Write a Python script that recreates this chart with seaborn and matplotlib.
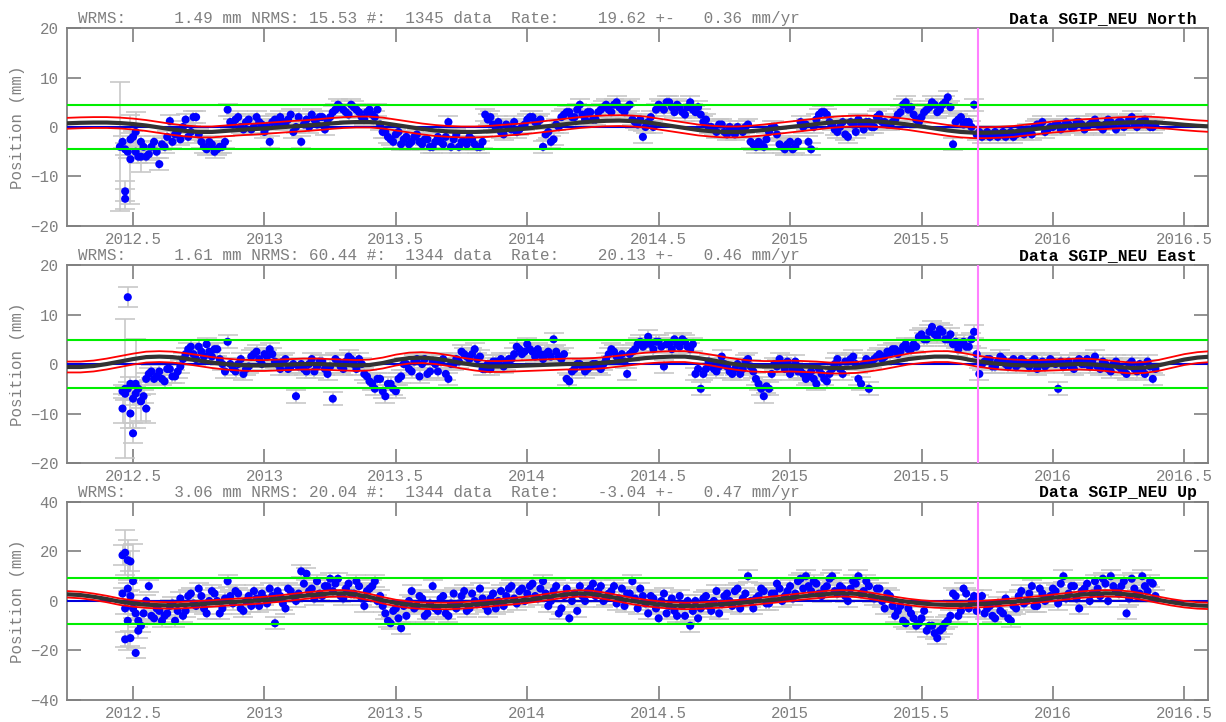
import numpy as np
import pandas as pd
import matplotlib
matplotlib.use("Agg")
import matplotlib.pyplot as plt
import seaborn as sns

# daily solutions: two interleaved passes, 0.02 yr apart
t_start = 2012.46
t_start2 = 2012.47
t_step = 0.02

north_vals = [-3, -5, -2, -6, -4, -5.5, -3, -7.5, -4, 1.2,
              -1.5, -2.5, 1.5, -1, 2, -3, -4.5, -3.5, -4.5, -4,
              3.5, 0.5, 2, -0.5, 1.5, 0, 1, -1, -3, 1.5,
              2, 0.5, 2.5, 0, -3, 1.5, 2.5, 0.5, 2, 1,
              3, 4.5, 3.5, 2.5, 4, 3, 1.5, 3.5, 2, 0.5,
              -1, -2.5, -1.5, -3.5, -2, -3, -1.5, -3.5, -2.5, -4,
              -2, -3.5, 1, -2.5, -4, -3, -2, -3.5, -4, 2.5,
              2, 0, -1, 0.5, -0.5, -1, 0, 1.5, 2, 1,
              -4, -1, -2.5, 0, 2.5, 3, 2, 4.5, 1.5, 3,
              1.5, 3.5, 4.5, 3, 5, 3.5, 4, 1.5, 0.5, -2,
              1, 0, 4.5, 3.5, 5, 3, 4, 2.5, 5, 3,
              2.5, 1.5, 0, -1, 0.5, -1.5, -0.5, 0, -1, 0.5,
              -3.5, -3, -4, -1, 0, -3.5, -4.5, -3, -4, 1,
              0.5, -4.5, 1.5, 3, 2.5, 0.5, -1, 1, -2, 0.5,
              1.5, -0.5, 1, 0, 2.5, 1, 0.5, 1.5, 3, 5,
              4, 1.5, 2, 3.5, 5, 3, 4.5, 6, -3.5, 1.5,
              0.5, 1, 4.5, -1, -1.5, -2, -1, -1.5, -2, -1,
              -1.5, -1, -0.5, -1.5, 0.5, 1, -0.5, 0, 0.5, 0,
              0.5, 0, 1, -0.5, 0.5, 1.5, 0, 0.5, 1, -0.5,
              1, 0.5, 2, 0, 1, 0.5, 0]
north_vals2 = [-4.5, -2.5, -5, -3, -6, -4, -5, -3.5, -2, -3,
               -1, 0, -2, 2, -1.5, -4, -3, -5, -4, -3,
               1, 1.5, 0, 1, -0.5, 2, 0.5, 0, 1, 0.5,
               1, 1.5, -1, 2, 0.5, 0, 1.5, 2, -0.5, 2,
               3.5, 4, 3, 4.5, 3.5, 2, 3, 2.5, 3.5, -1,
               -2, -3, -1, -2.5, -3.5, -2, -3, -2.5, -4, -3,
               -3, -2, -4, -1.5, -3, -3.5, -2.5, -4, -3, 1.5,
               0.5, 1, -1.5, 0, 1, -0.5, 0.5, 2, 1, 1.5,
               -1.5, -3, 0.5, 2, 3, 2, 3.5, 2.5, 3, 1.5,
               3, 4, 3.5, 4.5, 4, 3, 4.5, 1, 1.5, 0,
               2, 3.5, 4, 5, 4, 4.5, 3, 4, 3.5, 4,
               1, 0, -0.5, 0.5, -1, 0, -1.5, -0.5, 0, -3,
               -4, -3.5, -2.5, 0, -1.5, -4, -3.5, -4.5, -3, 0,
               -3, 0, 2.5, 3, 1, -0.5, 0, -1.5, 1, -1,
               0.5, 1, 0, 2, 1, 0.5, 1, 2.5, 4.5, 3.5,
               2.5, 1, 3, 4, 4.5, 3.5, 5, 4, 1, 2,
               1, 0, -1.5, -2, -1, -1.5, -2, -1, -1.5, -2,
               -1, -1.5, -0.5, 0, 0.5, -1, 0, 0.5, -0.5, 1,
               0, 1, 0.5, 0, 1, 0.5, -0.5, 1.5, 0.5, 1,
               0, 1.5, 0.5, 1, 1.5, 0, 0.5]

east_vals = [-5.5, -5, -7, -5, -6.5, -2, -3, -1.5, -3.5, -1,
             -2.5, -0.5, 2, 3.5, 1, 2.5, 4, 1.5, 3, 0,
             4.5, -1, 0, -2, -0.5, 2, 1, 2, 3, 0.5,
             -1, 1, -0.5, -6.5, 0, -1.5, 1, -0.5, 0.5, -2,
             -7, 0.5, -1, 1.5, 0, 1, -2, -3.5, -5, -3,
             -6.5, -4, -5.5, -2.5, 0, -1.5, 1, 0, -2, 0.5,
             -1.5, 1, -3, 0, 0.5, 2, 1, 3, 1.5, -1,
             -1, 0.5, 1, 0, 1, 3.5, 2, 4, 2.5, 3,
             1, 2.5, 5, 1.5, 2, -3.5, -1, 0, -1.5, -0.5,
             0, -1, 1, 3, 1.5, 2, -2, 2.5, 4, 3.5,
             5.5, 3, 4.5, -0.5, 4, 5, 3.5, 4.5, 3, -2,
             -5, -1, 0, -1.5, 1.5, -0.5, -2, 0, -1, 1,
             -1.5, -4, -6.5, -5, 0, 1, -1, -2, 0.5, -1.5,
             -3, -1.5, -4, -2, -3.5, -1, 1, -2, 0.5, 1.5,
             -3, 0, -5, 1, 2, 1.5, 2, 3, 2.5, 4,
             3, 3.5, 6, 5, 7.5, 5.5, 6.5, 5, 4, 3,
             4.5, 3.5, 6.5, -2, 0.5, 1, -0.5, 1.5, 0, 0.5,
             -0.5, 1, 0, 0.5, -1, 0.5, 0, 0.5, -5, -0.5,
             0.5, -1, 1, 0, -0.5, 1.5, -1, 0, -1.5, 0.5,
             -1, -2, 0.5, -1.5, -1, 0.5, -3]
east_vals2 = [-6, -4, -6, -7.5, -3, -1.5, -2.5, -3, -1, -2.5,
              -1.5, 1, 3, 2, 3.5, 1.5, 2.5, 3, 1, -1.5,
              0, -1.5, 1, -1, 1.5, 2.5, 0, 1.5, 2, 0,
              0.5, -1, 0, -0.5, -1, 0, -1.5, 0.5, -1, -0.5,
              1, -0.5, 0.5, 1, -1, 0, -2.5, -4, -3, -5.5,
              -4, -5, -3, 0, -1, 0.5, -2.5, 1, -1.5, 0,
              0.5, -2, 0, 1, 2.5, 1.5, 2, 1, -1, 0,
              0.5, 0, -0.5, 1, 2, 3, 2.5, 3, 1.5, 2,
              2, 1.5, 2.5, 1, -3, -1.5, 0, -0.5, -1, 0,
              -0.5, 0, 2, 2.5, 1, 0.5, 2, 3, 4.5, 4,
              4, 4.5, 3.5, 4, 3, 4, 5, 3.5, 4, -1,
              -2, 0.5, -1, -0.5, 0, -1.5, -1, -2, 0.5, -0.5,
              -3, -5, -4.5, -2, -0.5, 0, 0.5, -1, -1.5, -2,
              -2.5, -3, -1, -3, -2, 0, -1, 0.5, 1, 0,
              -4, 1, 0.5, 1.5, 1, 2.5, 3, 2, 3.5, 3,
              4, 5.5, 5, 6.5, 6, 7, 5, 6, 4.5, 4,
              3.5, 5, 2, 0, 1, -0.5, 0.5, 1, -0.5, 1,
              0, 0.5, -0.5, 1, 0, -0.5, 1, 0, 0.5, 0,
              -0.5, 0.5, 0, 1, 0.5, -0.5, 0.5, -1, 0, -0.5,
              -1.5, 0, -1, 0, -2, -0.5, -1]

up_vals = [3, 5, -3, -8, -5, 6, -7, -4, -6, -2,
           -8, 1, -4, 3, -2, 2, -5, 4, 0, -3,
           8, -1, 3, -4, 2, 4, -2, 1, 5, -9,
           2, -3, 4, 0, 12, 11, 5, 8, 2, 6,
           4, 9, 1, 7, 3, 6, -2, 5, 8, 2,
           -5, -9, -3, -11, -6, 4, -2, 1, -5, 6,
           -4, 2, -6, 3, -1, 4, -3, 0, 5, -2,
           1, -3, 4, 2, 6, -1, 5, 3, 7, 1,
           8, -2, 4, -5, 2, -7, 3, 6, 0, 5,
           2, 6, 1, 4, -1, 5, 3, 8, -3, 2,
           -5, 1, -7, 3, -2, -4, 2, -6, -10, 0,
           -3, 2, -4, 4, -1, 3, -2, 5, 1, 10,
           -3, 2, 4, -1, 3, 5, 2, 6, 3, 9,
           10, 4, 7, 2, 6, 10, 3, 5, 0, 8,
           10, 4, 6, 1, 5, -3, 2, -6, -2, -9,
           -5, -10, -7, -12, -10, -15, -11, -8, 3, -6,
           5, -3, 2, 0, -5, -2, -7, -4, 1, -8,
           -3, 4, 0, 6, -2, 3, 1, 5, -1, 10,
           3, 6, -3, 5, 0, 8, 2, 7, 10, 4,
           6, -5, 9, 2, 10, 4, 7]
up_vals2 = [-3, 2, -5, -10, 0, -6, -3, -8, -5, -1,
            -4, -6, 2, -1, 5, -3, 0, 3, -5, 1,
            2, 4, -3, 0, -2, 1, 3, -1, 2, 4,
            -1, 5, 2, 3, 7, 4, 1, 3, 6, 9,
            7, 2, 5, 3, 8, 1, 4, 6, 0, -2,
            -8, -4, -7, -2, 0, -3, 2, -6, -1, -3,
            1, -5, -1, -3, 2, -4, 3, -1, 1, -4,
            3, 0, -2, 5, 1, 4, 0, 6, 2, 5,
            3, 0, 6, -3, 5, 0, -4, 2, 4, 7,
            4, 0, 3, 6, 1, -2, 3, 1, 5, -1,
            2, -3, 0, -5, 1, -6, -2, 0, -4, -7,
            1, -2, 0, -5, 2, 0, 4, -3, 3, 0,
            1, 5, -1, 3, 7, 0, 4, 1, 8, 5,
            6, 8, 3, 5, 9, 4, 6, 2, 5, 7,
            3, 8, 2, 5, 0, 3, -2, -4, -8, -3,
            -7, -9, -4, -10, -13, -12, -9, -6, 2, -4,
            3, 0, -4, 2, -3, -6, -1, -5, -7, -2,
            2, -1, 3, -2, 5, 0, 2, 4, 7, 1,
            6, 1, 4, 7, 3, 5, 9, 0, 6, 3,
            8, 1, 5, 3, 6, 8, 2]

# noisy first days of the series
north_out_t = [2012.45, 2012.47, 2012.47, 2012.49, 2012.51, 2012.53]
north_out_v = [-4, -13, -14.5, -6.5, -1, -6]
north_out_s = [13, 2, 2, 9, 4, 3]
east_out_t = [2012.46, 2012.47, 2012.48, 2012.49, 2012.50, 2012.51, 2012.53, 2012.55]
east_out_v = [-9, -5, 13.5, -10, -14, -4, -7.5, -9]
east_out_s = [3, 14, 2, 3, 2, 9, 4, 3]
up_out_t = [2012.46, 2012.47, 2012.48, 2012.49, 2012.47, 2012.49, 2012.50, 2012.51, 2012.52, 2012.48]
up_out_v = [18.5, 19.5, 16.5, 16, -15.5, -15, 8, -21, -12, -8]
up_out_s = [4, 9, 8, 4, 3, 3, 15, 2, 3, 12]

# fitted model, read every 0.05 yr from 2012.25
m_start = 2012.25
m_step = 0.05
north_model = [0.75, 0.85, 0.9, 0.9, 0.8, 0.6, 0.3, -0.1, -0.5, -0.8,
               -1.0, -1.0, -0.8, -0.6, -0.45, -0.3, -0.1, 0.1, 0.25, 0.45,
               0.7, 0.9, 1.0, 1.0, 0.8, 0.4, 0.0, -0.4, -0.7, -0.9,
               -1.0, -1.0, -0.9, -0.7, -0.5, -0.3, 0.0, 0.3, 0.6, 0.9,
               1.1, 1.25, 1.3, 1.2, 1.0, 0.6, 0.2, -0.2, -0.6, -0.85,
               -1.0, -1.0, -0.85, -0.6, -0.3, 0.0, 0.3, 0.6, 0.9, 1.1,
               1.2, 1.2, 1.05, 0.8, 0.5, 0.1, -0.3, -0.7, -1.0, -1.15,
               -1.15, -1.05, -0.9, -0.6, -0.3, 0.0, 0.2, 0.4, 0.55, 0.7,
               0.85, 0.95, 1.0, 0.9, 0.7, 0.45, 0.25, 0.1]
east_model = [-0.6, -0.6, -0.4, 0.0, 0.5, 1.0, 1.4, 1.5, 1.4, 1.1,
              0.7, 0.3, 0.0, -0.2, -0.3, -0.3, -0.2, -0.1, 0.0, 0.0,
              -0.1, -0.2, -0.3, -0.2, 0.2, 0.8, 1.2, 1.3, 1.1, 0.7,
              0.2, -0.2, -0.5, -0.5, -0.4, -0.3, -0.2, -0.1, 0.0, 0.0,
              0.1, 0.3, 0.6, 0.9, 1.2, 1.4, 1.5, 1.5, 1.2, 0.8,
              0.3, -0.1, -0.4, -0.5, -0.5, -0.4, -0.5, -0.6, -0.8, -0.8,
              -0.7, -0.4, 0.0, 0.5, 1.0, 1.3, 1.5, 1.5, 1.2, 0.7,
              0.3, 0.0, -0.2, -0.3, -0.3, -0.2, -0.1, 0.0, -0.1, -0.3,
              -0.6, -0.8, -0.7, -0.3, 0.3, 0.9, 1.3, 1.5]
up_model = [2.7, 2.4, 1.7, 0.8, -0.3, -1.0, -1.5, -1.7, -1.8, -1.6,
            -1.3, -1.0, -0.6, -0.3, 0.0, 0.4, 0.9, 1.5, 2.1, 2.6,
            3.0, 3.1, 2.6, 1.6, 0.3, -0.8, -1.5, -1.9, -2.0, -2.0,
            -1.8, -1.4, -1.0, -0.5, 0.0, 0.5, 1.2, 2.0, 2.7, 3.1,
            2.8, 2.0, 1.0, 0.0, -0.8, -1.4, -1.8, -2.0, -1.9, -1.6,
            -1.3, -0.9, -0.4, 0.2, 0.7, 1.3, 1.9, 2.4, 2.9, 3.1,
            2.9, 2.2, 1.3, 0.4, -0.4, -1.0, -1.4, -1.6, -1.6, -1.4,
            -1.1, -0.7, -0.3, 0.2, 0.7, 1.3, 1.9, 2.5, 2.9, 3.1,
            3.0, 2.5, 1.6, 0.5, -0.5, -1.3, -1.8, -2.0]

components = ["North", "East", "Up"]
wrms = [1.49, 1.61, 3.06]
nrms = [15.53, 60.44, 20.04]
ndata = [1345, 1344, 1344]
rate = [19.62, 20.13, -3.04]
rate_sig = [0.36, 0.46, 0.47]
model_band = [1.1, 1.1, 1.3]
break_epoch = 2015.714
ylims = [(-20, 20), (-20, 20), (-40, 40)]
yticks = [[-20, -10, 0, 10, 20], [-20, -10, 0, 10, 20], [-40, -20, 0, 20, 40]]
xticks = [2012.5, 2013, 2013.5, 2014, 2014.5, 2015, 2015.5, 2016, 2016.5]
xticklabels = ["2012.5", "2013", "2013.5", "2014", "2014.5", "2015", "2015.5", "2016", "2016.5"]

sns.set_style("ticks")
plt.rcParams["font.family"] = ["Liberation Mono", "DejaVu Sans Mono"]

grey = "#7f7f7f"
fig = plt.figure(figsize=(12.26, 7.22), dpi=100)
bottoms = [0.687, 0.3587, 0.0305]

series = [(north_vals, north_vals2, north_out_t, north_out_v, north_out_s, north_model),
          (east_vals, east_vals2, east_out_t, east_out_v, east_out_s, east_model),
          (up_vals, up_vals2, up_out_t, up_out_v, up_out_s, up_model)]

for k, comp in enumerate(components):
    vals, vals2, out_t, out_v, out_s, mod = series[k]
    ax = fig.add_axes([0.0547, bottoms[k], 0.9306, 0.2742])

    t1 = t_start + t_step * np.arange(len(vals))
    t2 = t_start2 + t_step * np.arange(len(vals2))
    tm = m_start + m_step * np.arange(len(mod))
    mod = np.array(mod)

    t_all = np.concatenate([t1, t2, out_t])
    v_all = np.concatenate([vals, vals2, out_v])
    s_all = np.concatenate([np.full(len(vals) + len(vals2), wrms[k] * 0.8), out_s])
    pts = pd.DataFrame({"t": t_all, "v": v_all, "s": s_all})

    ax.errorbar(pts["t"], pts["v"], yerr=pts["s"], fmt="none", ecolor="#c8c8c8",
                elinewidth=1.2, capsize=7, capthick=1.2, zorder=1)
    sns.scatterplot(data=pts, x="t", y="v", ax=ax, color="#0000ff", s=34,
                    edgecolor="none", linewidth=0, zorder=3)

    ax.axhline(0, color="#0000dd", lw=1.5, zorder=4)
    sns.lineplot(x=tm, y=mod, ax=ax, color="#333333", lw=3, zorder=5)
    sns.lineplot(x=tm, y=mod + model_band[k], ax=ax, color="#ff0000", lw=1.3, zorder=6)
    sns.lineplot(x=tm, y=mod - model_band[k], ax=ax, color="#ff0000", lw=1.3, zorder=6)

    ax.axhline(3 * wrms[k], color="#00ee00", lw=1.5, zorder=7)
    ax.axhline(-3 * wrms[k], color="#00ee00", lw=1.5, zorder=7)
    ax.axvline(break_epoch, color="#ff80ff", lw=1.5, zorder=7)

    ax.set_xlim(2012.249, 2016.59)
    ax.set_ylim(*ylims[k])
    ax.set_xticks(xticks)
    ax.set_xticklabels(xticklabels)
    ax.set_yticks(yticks[k])
    ax.set_xlabel("")
    ax.set_ylabel("Position (mm)", color=grey, fontsize=11.3)
    ax.yaxis.set_label_coords(-0.037, 0.5)

    ax.tick_params(direction="in", length=10, width=1.2, top=True, right=True,
                   color=grey, labelcolor=grey, labelsize=11.3)
    ax.tick_params(axis="x", pad=4)
    ax.tick_params(axis="y", pad=6)
    for sp in ax.spines.values():
        sp.set_visible(True)
        sp.set_color(grey)
        sp.set_linewidth(1.3)

    stats = ("WRMS:%9.2f mm NRMS: %5.2f #:  %4d data  Rate:%9.2f +- %6.2f mm/yr"
             % (wrms[k], nrms[k], ndata[k], rate[k], rate_sig[k]))
    ax.text(0.0096, 1.012, stats, transform=ax.transAxes, ha="left", va="bottom",
            color=grey, fontsize=11.5)
    ax.text(0.990, 1.012, "Data SGIP_NEU " + comp, transform=ax.transAxes,
            ha="right", va="bottom", color="black", fontsize=11.8, fontweight="bold")

fig.savefig("out.png", dpi=100)
